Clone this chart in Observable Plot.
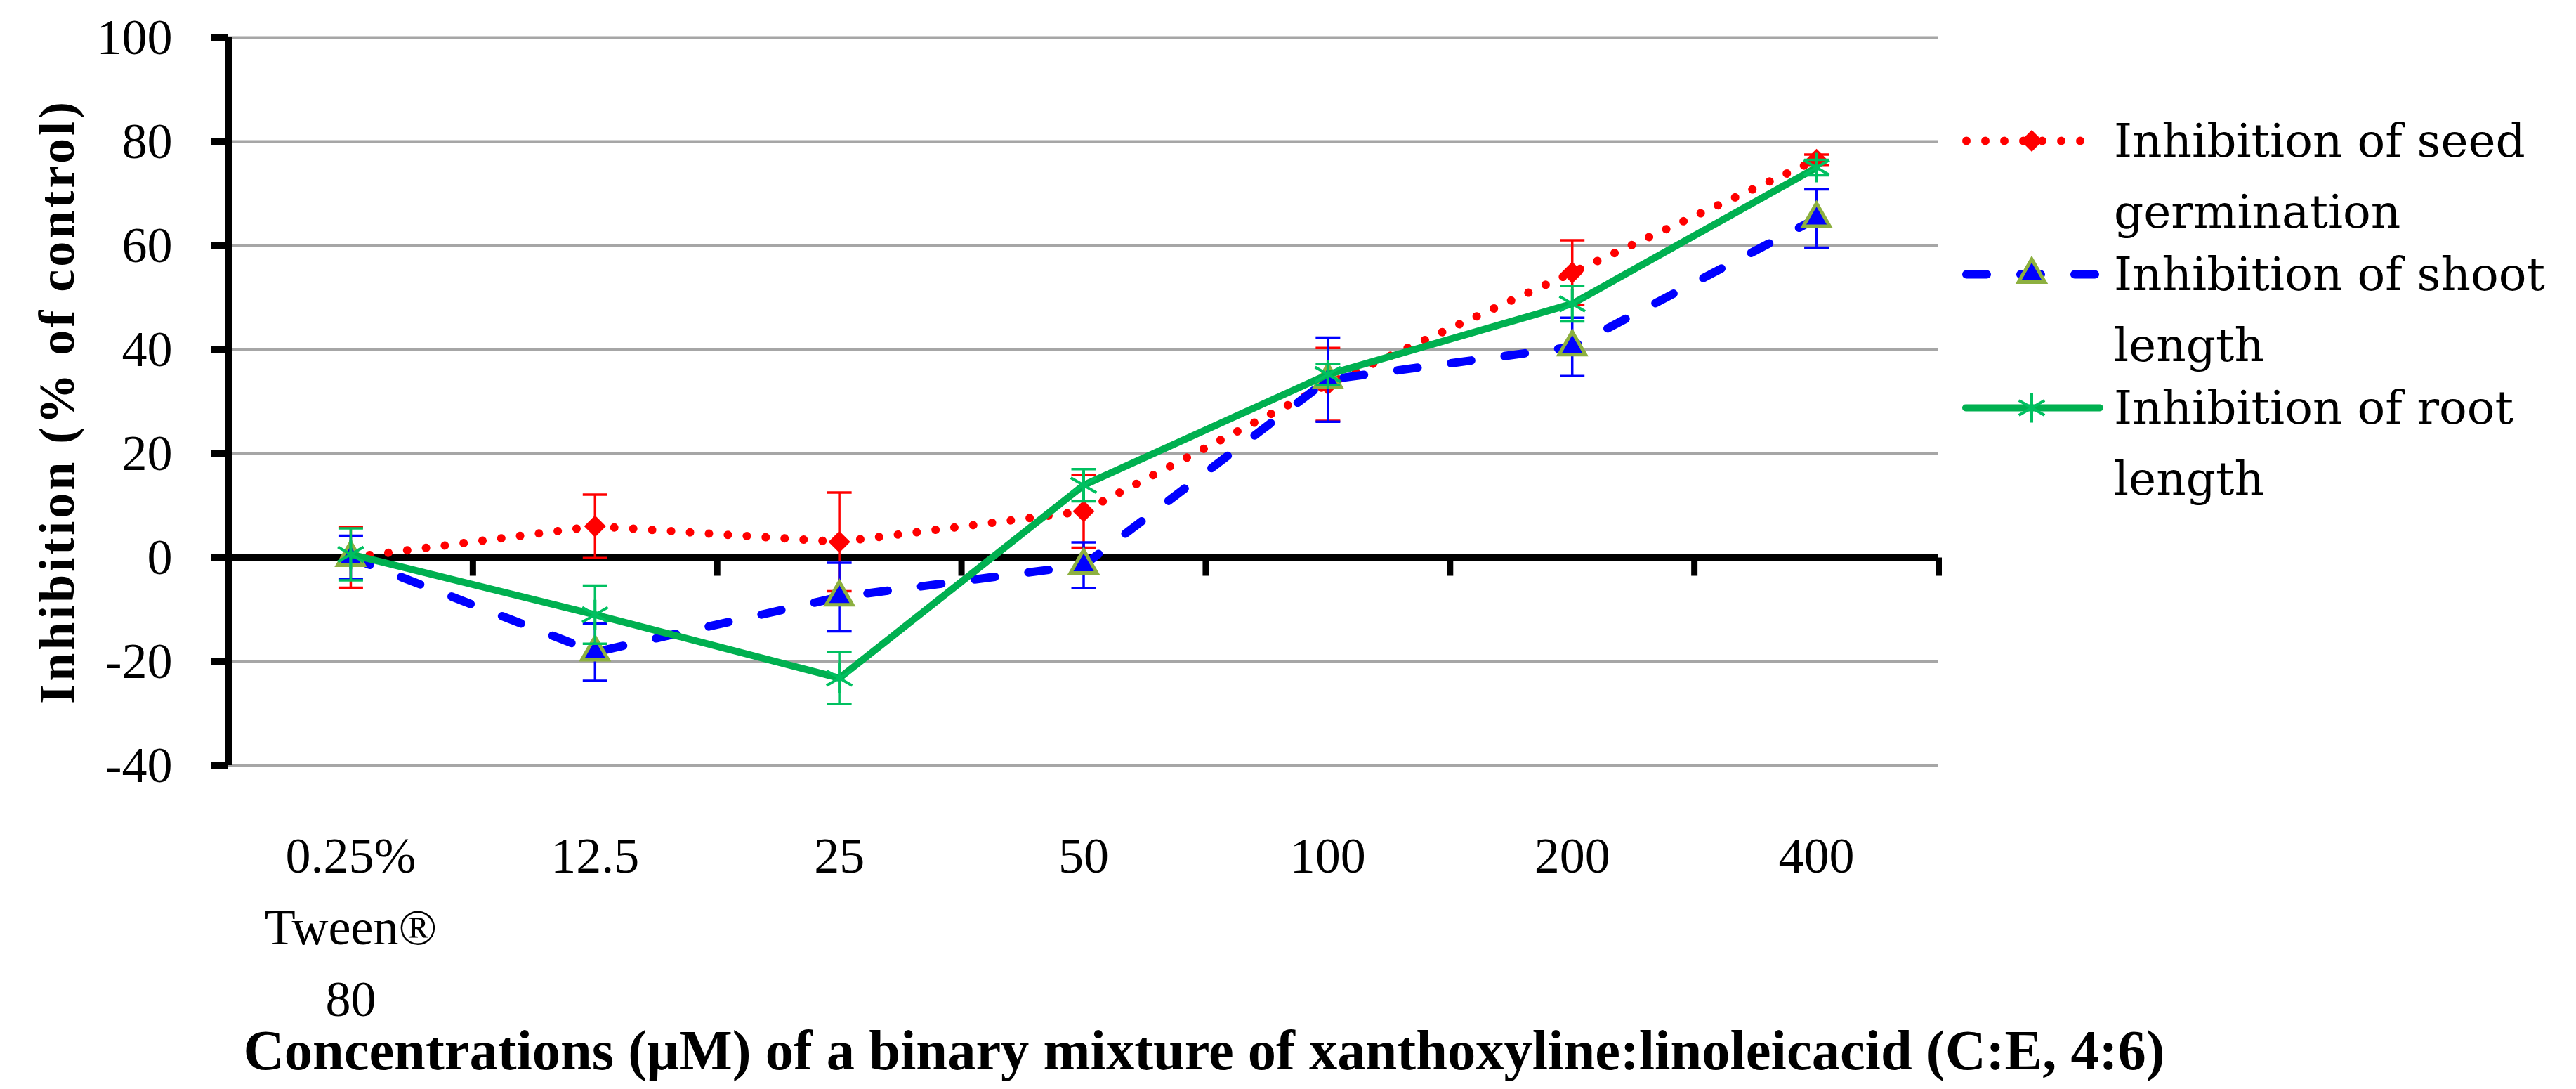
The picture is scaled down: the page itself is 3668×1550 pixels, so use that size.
<!DOCTYPE html>
<html>
<head>
<meta charset="utf-8">
<script src="https://cdn.jsdelivr.net/npm/d3@7"></script>
<script src="https://cdn.jsdelivr.net/npm/@observablehq/plot@0.6"></script>
<style>
  body { margin: 0; background: #fff; }
  #wrap { position: relative; width: 3668px; height: 1550px; background: #fff; }
  #legend { position: absolute; left: 2794px; top: 150px; font-family: "DejaVu Serif"; font-size: 66px; line-height: 101px; color: #000; }
  .item { display: flex; align-items: flex-start; }
  .item + .item { margin-top: -12px; }
  .item .lab { width: 658px; }
  .item svg { display: block; flex: none; }
</style>
</head>
<body>
<div id="wrap"><div id="legend"></div></div>
<script>
// ---- data ----
const xLabels = ["0.25%\nTween®\n80", "12.5", "25", "50", "100", "200", "400"];
const yTicks = [-40, -20, 0, 20, 40, 60, 80, 100];
const seriesNames = ["Inhibition of seed germination", "Inhibition of shoot length", "Inhibition of root length"];
const seed     = [0, 6, 3, 8.9, 33.3, 54.8, 76.5];
const seedErr  = [5.8, 6.1, 9.5, 7, 7, 6.2, 1];
const shoot    = [0, -18.2, -7.6, -1.5, 34.2, 40.5, 65.2];
const shootErr = [4.2, 5.5, 6.6, 4.4, 8.1, 5.6, 5.6];
const root     = [0.6, -11, -23.2, 13.9, 35.2, 48.8, 75];
const rootErr  = [5, 5.6, 5, 3.1, 2, 3.4, 1.5];
const yTitle = "Inhibition (% of control)";
const xTitle = "Concentrations (μM) of a binary mixture of xanthoxyline:linoleicacid (C:E, 4:6)";

// ---- derived ----
const idx = xLabels.map((_, i) => i);
const bounds = xLabels.map((_, i) => i + 0.5);
const xDomain = [-0.5, xLabels.length - 0.5];
const rows = (vals, errs) => vals.map((v, i) => ({i, v, e: errs[i]}));

const capSym = {draw(ctx, size) { const r = Math.sqrt(size / Math.PI); ctx.moveTo(-r, 0); ctx.lineTo(r, 0); }};
const tickSym = {draw(ctx, size) { const r = Math.sqrt(size / Math.PI); ctx.moveTo(0, 0); ctx.lineTo(0, r); }};

const styles = [
  {data: rows(seed, seedErr), line: "#ff0000", lw: 12, dash: "0.01 27", err: "#ff0000",
   symbol: "diamond2", d3sym: d3.symbolDiamond2, r: 14, fill: "#ff0000", mstroke: "none", msw: 0},
  {data: rows(shoot, shootErr), line: "#0000ff", lw: 12, dash: "29 48", err: "#0000ff",
   symbol: "triangle", d3sym: d3.symbolTriangle, r: 14, fill: "#0000ff", mstroke: "#8db040", msw: 5},
  {data: rows(root, rootErr), line: "#00b050", lw: 10, dash: null, err: "#00c060",
   symbol: "asterisk", d3sym: d3.symbolAsterisk, r: 20, fill: "none", mstroke: "#00c060", msw: 4}
];

const seriesMarks = styles.flatMap(s => [
  Plot.line(s.data, {x: "i", y: "v", stroke: s.line, strokeWidth: s.lw, strokeDasharray: s.dash,
    strokeLinecap: "round", strokeLinejoin: "round"}),
  Plot.ruleX(s.data, {x: "i", y1: d => d.v - d.e, y2: d => d.v + d.e, stroke: s.err, strokeWidth: 3.5}),
  Plot.dot(s.data, {x: "i", y: d => d.v + d.e, symbol: capSym, r: 17.5, stroke: s.err, strokeWidth: 3.5, fill: "none"}),
  Plot.dot(s.data, {x: "i", y: d => d.v - d.e, symbol: capSym, r: 17.5, stroke: s.err, strokeWidth: 3.5, fill: "none"}),
  Plot.dot(s.data, {x: "i", y: "v", symbol: s.symbol, r: s.r, fill: s.fill, stroke: s.mstroke, strokeWidth: s.msw})
]);

const chart = Plot.plot({
  width: 3668,
  height: 1550,
  marginLeft: 325,
  marginRight: 908,
  marginTop: 53,
  marginBottom: 461,
  x: {domain: xDomain, axis: null},
  y: {domain: [yTicks[0], yTicks[yTicks.length - 1]], axis: null},
  style: {background: "white", fontFamily: "Liberation Serif", overflow: "visible", color: "#000"},
  marks: [
    Plot.ruleY(yTicks.filter(d => d !== 0), {stroke: "#a6a6a6", strokeWidth: 4}),
    Plot.ruleY([0], {stroke: "#000", strokeWidth: 10}),
    Plot.dot(bounds, {x: d => d, y: 0, symbol: tickSym, r: 26, stroke: "#000", strokeWidth: 9, fill: "none"}),
    Plot.ruleX([xDomain[0]], {stroke: "#000", strokeWidth: 9}),
    Plot.axisY({ticks: yTicks, tickSize: 25, tickPadding: 55, tickFormat: d => String(d),
      fontSize: 72, strokeWidth: 9, label: null}),
    Plot.text(idx, {x: d => d, text: d => xLabels[d], frameAnchor: "bottom", lineAnchor: "top",
      dy: 80, fontSize: 72, lineHeight: 1.417}),
    Plot.text([yTitle], {text: d => d, frameAnchor: "left", textAnchor: "middle", rotate: -90, dx: -244,
      lineAnchor: "middle", fontSize: 72, fontWeight: "bold"}),
    Plot.text([xTitle], {text: d => d, frameAnchor: "bottom-left", textAnchor: "start", lineAnchor: "top",
      dx: 21, dy: 375, fontSize: 80.5, fontWeight: "bold"}),
    ...seriesMarks
  ]
});

d3.select(chart).selectAll("text").filter(function() { return this.textContent === yTitle; })
  .style("letter-spacing", "4px");

const wrap = document.getElementById("wrap");
wrap.insertBefore(chart, wrap.firstChild);
chart.style.position = "absolute";
chart.style.left = "0";
chart.style.top = "0";

// ---- legend ----
const legend = d3.select("#legend");
styles.forEach((s, k) => {
  const item = legend.append("div").attr("class", "item");
  const svg = item.append("svg").attr("width", 216).attr("height", 101);
  const y = 50.5;
  svg.append("line").attr("x1", s.dash ? 6 : 5).attr("x2", s.dash === "0.01 27" ? 187 : (s.dash ? 189 : 196))
    .attr("y1", y).attr("y2", y)
    .attr("stroke", s.line).attr("stroke-width", s.lw)
    .attr("stroke-dasharray", s.dash).attr("stroke-linecap", "round");
  svg.append("path").attr("d", d3.symbol(s.d3sym, Math.PI * s.r * s.r)())
    .attr("transform", `translate(99,${y})`)
    .attr("fill", s.fill).attr("stroke", s.mstroke).attr("stroke-width", s.msw);
  item.append("div").attr("class", "lab").text(seriesNames[k]);
});
</script>
</body>
</html>
